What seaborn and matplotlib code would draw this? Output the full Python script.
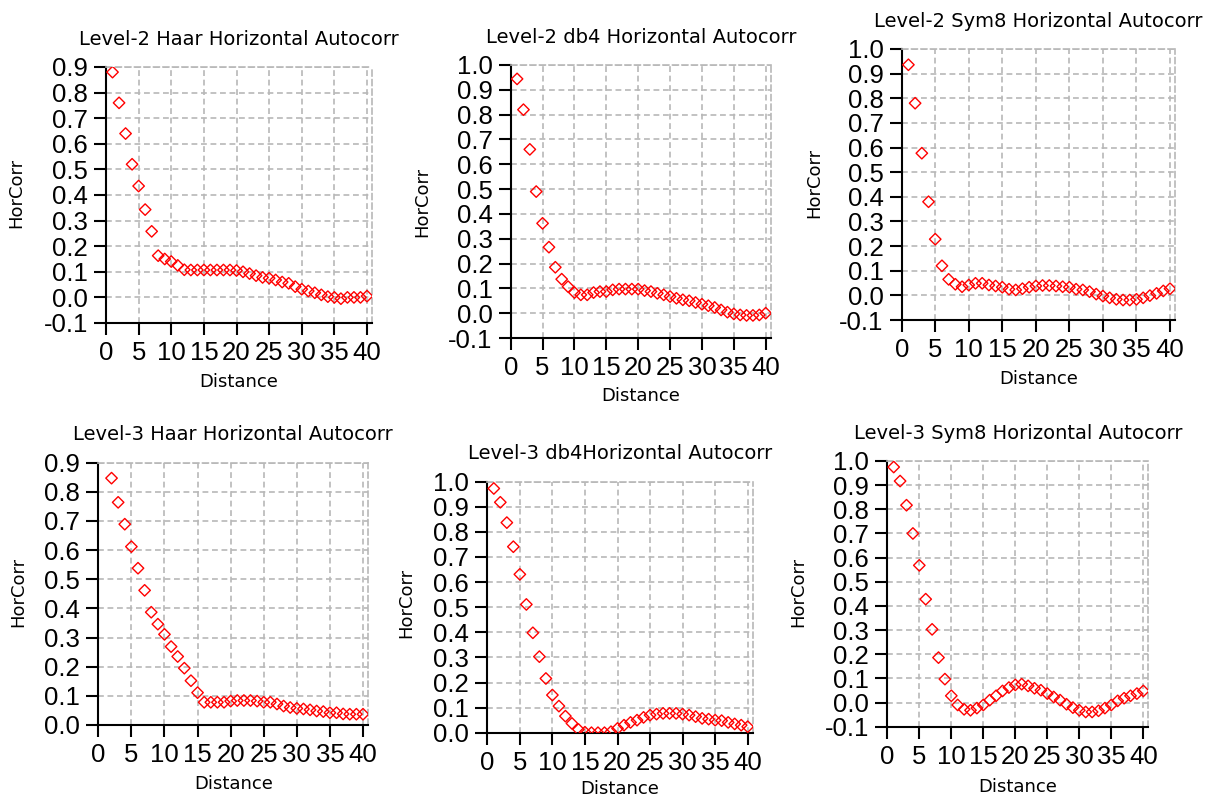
import numpy as np
import pandas as pd
import matplotlib
matplotlib.use("Agg")
import matplotlib.pyplot as plt
import seaborn as sns
from matplotlib.ticker import MultipleLocator, FormatStrFormatter

# ---------------- data ----------------
titles = [
    "Level-2 Haar Horizontal Autocorr",
    "Level-2 db4 Horizontal Autocorr",
    "Level-2 Sym8 Horizontal Autocorr",
    "Level-3 Haar Horizontal Autocorr",
    "Level-3 db4Horizontal Autocorr",
    "Level-3 Sym8 Horizontal Autocorr",
]
x_label = "Distance"
y_label = "HorCorr"
x_ticks = [0, 5, 10, 15, 20, 25, 30, 35, 40]

dist_1_40 = list(range(1, 41))
dist_2_40 = list(range(2, 41))

l2_haar = [0.88, 0.76, 0.64, 0.52, 0.435, 0.343, 0.258, 0.163, 0.15, 0.14,
           0.125, 0.108, 0.107, 0.107, 0.107, 0.107, 0.107, 0.107, 0.107, 0.105,
           0.10, 0.093, 0.085, 0.078, 0.075, 0.068, 0.06, 0.055, 0.042, 0.032,
           0.025, 0.018, 0.01, 0.003, 0.0, -0.005, 0.0, 0.0, 0.0, 0.005]
l2_db4 = [0.944, 0.82, 0.66, 0.49, 0.362, 0.266, 0.185, 0.137, 0.107, 0.083,
          0.074, 0.074, 0.083, 0.087, 0.087, 0.094, 0.097, 0.097, 0.097, 0.097,
          0.091, 0.087, 0.08, 0.074, 0.067, 0.06, 0.054, 0.05, 0.043, 0.036,
          0.03, 0.023, 0.013, 0.004, -0.003, -0.007, -0.009, -0.009, -0.007, 0.0]
l2_sym8 = [0.936, 0.78, 0.577, 0.38, 0.228, 0.12, 0.065, 0.045, 0.035, 0.042,
           0.049, 0.049, 0.042, 0.038, 0.033, 0.025, 0.022, 0.027, 0.033, 0.038,
           0.04, 0.04, 0.038, 0.035, 0.033, 0.025, 0.022, 0.015, 0.005, -0.003,
           -0.01, -0.016, -0.019, -0.019, -0.016, -0.01, -0.001, 0.008, 0.018, 0.027]
l3_haar = [0.847, 0.764, 0.689, 0.612, 0.538, 0.462, 0.387, 0.346, 0.311, 0.269,
           0.235, 0.195, 0.152, 0.111, 0.078, 0.078, 0.078, 0.078, 0.082, 0.084,
           0.084, 0.084, 0.082, 0.078, 0.078, 0.072, 0.065, 0.06, 0.057, 0.055,
           0.052, 0.048, 0.046, 0.042, 0.042, 0.038, 0.037, 0.037, 0.037]
l3_db4 = [0.973, 0.918, 0.837, 0.741, 0.631, 0.511, 0.398, 0.303, 0.216, 0.15,
          0.106, 0.066, 0.037, 0.013, 0.002, 0.0, 0.0, 0.0, 0.004, 0.017,
          0.03, 0.041, 0.05, 0.061, 0.07, 0.074, 0.077, 0.077, 0.077, 0.074,
          0.07, 0.064, 0.057, 0.054, 0.05, 0.048, 0.041, 0.035, 0.03, 0.024]
l3_sym8 = [0.975, 0.917, 0.817, 0.70, 0.568, 0.428, 0.303, 0.186, 0.097, 0.028,
           -0.01, -0.028, -0.032, -0.023, -0.01, 0.01, 0.028, 0.048, 0.062, 0.073,
           0.076, 0.069, 0.059, 0.051, 0.037, 0.023, 0.01, -0.007, -0.021, -0.032,
           -0.039, -0.039, -0.034, -0.023, -0.01, 0.007, 0.018, 0.028, 0.037, 0.048]

series = [
    (dist_1_40, l2_haar),
    (dist_1_40, l2_db4),
    (dist_1_40, l2_sym8),
    (dist_2_40, l3_haar),
    (dist_1_40, l3_db4),
    (dist_1_40, l3_sym8),
]
y_limits = [(-0.1, 0.9), (-0.1, 1.0), (-0.1, 1.0), (0.0, 0.9), (0.0, 1.0), (-0.1, 1.0)]

# ---------------- layout (pixels) ----------------
W, H = 1211, 796
XMAX = 40.8
# left (x=0), x=40 position, top, bottom
rects_px = [
    (106.0, 367.0, 67.0, 323.0),
    (510.7, 765.7, 65.0, 338.0),
    (901.7, 1170.0, 49.0, 320.0),
    (98.3, 363.0, 462.7, 725.0),
    (487.3, 747.7, 481.7, 732.7),
    (887.3, 1143.3, 461.0, 726.7),
]
ylabel_right_px = [25, 431, 823, 27, 415, 807]
ylabel_center_px = [193, 202, 183, 592, 603, 592]
xlabel_top_px = [373, 387, 370, 775, 780, 778]

sns.set_style("white")
plt.rcParams["font.family"] = ["DejaVu Sans"]

fig = plt.figure(figsize=(W / 100, H / 100), dpi=100)
fig.patch.set_facecolor("white")

grid_color = "#b8b8b8"
tick_family = ["Liberation Sans Narrow", "Liberation Sans", "DejaVu Sans"]

for i in range(6):
    left, x40, top, bottom = rects_px[i]
    right = left + (x40 - left) * XMAX / 40.0
    ax = fig.add_axes([left / W, 1 - bottom / H, (right - left) / W, (bottom - top) / H])
    xs, ys = series[i]
    df = pd.DataFrame({x_label: xs, y_label: ys})
    sns.scatterplot(data=df, x=x_label, y=y_label, ax=ax, marker="D", s=34,
                    facecolor="none", edgecolor="red", linewidth=1.0, zorder=3)
    ax.set_xlim(0, XMAX)
    ax.set_ylim(*y_limits[i])
    ax.set_xticks(x_ticks)
    ax.yaxis.set_major_locator(MultipleLocator(0.1))
    ax.yaxis.set_major_formatter(FormatStrFormatter("%.1f"))
    ax.grid(True, color=grid_color, linestyle=(0, (3.5, 2.2)), linewidth=1.2)
    ax.set_axisbelow(True)
    for s in ("left", "bottom"):
        ax.spines[s].set_color("black")
        ax.spines[s].set_linewidth(1.5)
    for s in ("top", "right"):
        ax.spines[s].set_color(grid_color)
        ax.spines[s].set_linestyle((0, (3.5, 2.2)))
        ax.spines[s].set_linewidth(1.2)
    ax.tick_params(axis="both", which="major", direction="out", length=8.5,
                   width=1.5, color="black", pad=4.5, labelcolor="black",
                   bottom=True, left=True, top=False, right=False)
    for lab in ax.get_xticklabels() + ax.get_yticklabels():
        lab.set_fontfamily(tick_family)
        lab.set_fontsize(18.5)
    ax.set_title(titles[i], fontsize=14, pad=16, color="black")
    ax.set_xlabel(x_label, fontsize=13, color="black")
    ax.set_ylabel(y_label, fontsize=13, color="black")
    w_px = right - left
    h_px = bottom - top
    ax.xaxis.set_label_coords(((left + right) / 2 - left) / w_px, (bottom - xlabel_top_px[i]) / h_px)
    ax.yaxis.set_label_coords((ylabel_right_px[i] - left) / w_px, (bottom - ylabel_center_px[i]) / h_px)

fig.savefig("out.png", dpi=100, facecolor="white")
